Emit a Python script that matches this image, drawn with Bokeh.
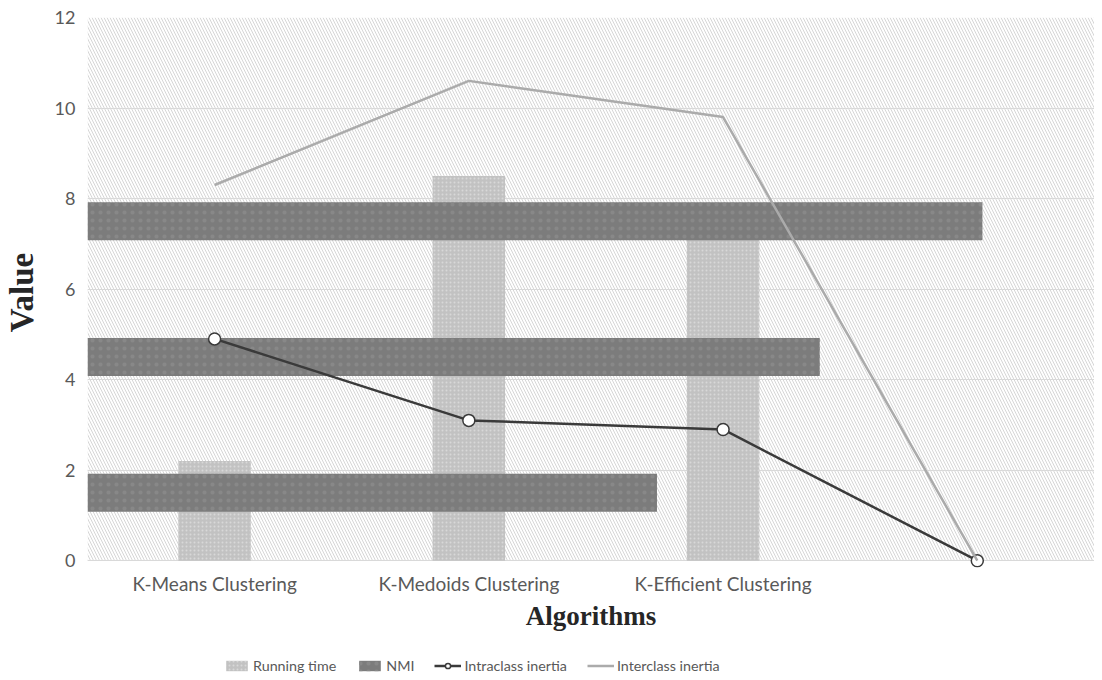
from bokeh.plotting import figure
from bokeh.layouts import column
from bokeh.models import (Range1d, LinearAxis, FixedTicker, BoxAnnotation, Legend, LegendItem)
from bokeh.embed import file_html
from bokeh.resources import INLINE

categories = ["K-Means Clustering", "K-Medoids Clustering", "K-Efficient Clustering", ""]
running_time = [2.2, 8.5, 7.6]
nmi = [0.56, 0.72, 0.88]
intraclass = [4.9, 3.1, 2.9, 0.0]
interclass = [8.3, 10.6, 9.8, 0.0]
y_ticks = [0, 2, 4, 6, 8, 10, 12]
series_names = ["Running time", "NMI", "Intraclass inertia", "Interclass inertia"]

xpos = [i + 0.5 for i in range(len(categories))]

RT_STYLE = dict(fill_color="#c2c2c2", line_color=None, hatch_pattern=".",
                hatch_color="#d8d8d8", hatch_scale=4)
NMI_STYLE = dict(fill_color="#7c7c7c", line_color=None, hatch_pattern=".",
                 hatch_color="#888888", hatch_scale=8)
INTRA_LINE = dict(line_color="#3a3a3a", line_width=2.5)
INTRA_MARK = dict(size=12, marker="circle", fill_color="white", line_color="#3a3a3a", line_width=1.5)
INTER_LINE = dict(line_color="#ababab", line_width=2.5)

p = figure(width=1094, height=640, output_backend="svg", toolbar_location=None,
           x_range=Range1d(0, 3.961), y_range=Range1d(-0.15, 12),
           min_border_left=80, min_border_right=0, min_border_top=17, min_border_bottom=73,
           x_axis_type=None)
p.outline_line_color = None
p.background_fill_color = "white"
p.border_fill_color = "white"

p.extra_x_ranges = {"nmi_x": Range1d(0, 3.961 / 4)}
p.extra_y_ranges = {"nmi_y": Range1d(-0.05, 4)}

bg = BoxAnnotation(bottom=0, fill_color="#fcfcfc", hatch_pattern="\\", hatch_color="#d6d6d6",
                   hatch_weight=1, hatch_scale=6, line_color=None, level="underlay")
p.center = [bg] + list(p.center)

p.ygrid.ticker = FixedTicker(ticks=y_ticks)
p.ygrid.grid_line_color = "#d9d9d9"
p.xgrid.ticker = FixedTicker(ticks=[0, 1, 2, 3, 4])
p.xgrid.grid_line_color = "#d9d9d9"

p.yaxis.ticker = FixedTicker(ticks=y_ticks)
p.yaxis.axis_line_color = None
p.yaxis.major_tick_line_color = None
p.yaxis.minor_tick_line_color = None
p.yaxis.major_label_text_font = "Lato"
p.yaxis.major_label_text_font_size = "18px"
p.yaxis.major_label_text_color = "#595959"
p.yaxis.major_label_standoff = 6
p.yaxis.axis_label = "Value"
p.yaxis.axis_label_text_font = "Liberation Serif"
p.yaxis.axis_label_text_font_style = "bold"
p.yaxis.axis_label_text_font_size = "33px"
p.yaxis.axis_label_text_color = "#262626"
p.yaxis.axis_label_standoff = 12

xaxis = LinearAxis(ticker=FixedTicker(ticks=xpos),
                   major_label_overrides={x: c for x, c in zip(xpos, categories)})
xaxis.axis_line_color = None
xaxis.major_tick_line_color = None
xaxis.minor_tick_line_color = None
xaxis.major_label_text_font = "Lato"
xaxis.major_label_text_font_size = "19px"
xaxis.major_label_text_color = "#595959"
xaxis.major_label_standoff = -2
xaxis.axis_label = "Algorithms"
xaxis.axis_label_text_font = "Liberation Serif"
xaxis.axis_label_text_font_style = "bold"
xaxis.axis_label_text_font_size = "27px"
xaxis.axis_label_text_color = "#262626"
xaxis.axis_label_standoff = 3
p.add_layout(xaxis, "below")

p.vbar(x=xpos[:3], top=running_time, bottom=0, width=0.285, **RT_STYLE)
p.hbar(y=[0.5, 1.5, 2.5], right=nmi, left=0, height=0.28,
       x_range_name="nmi_x", y_range_name="nmi_y", **NMI_STYLE)
p.line(xpos, intraclass, **INTRA_LINE)
p.scatter(xpos, intraclass, **INTRA_MARK)
p.line(xpos, interclass, **INTER_LINE)

# legend strip (dummy renderers sit outside the visible range)
lg = figure(width=1094, height=36, output_backend="svg", toolbar_location=None,
            x_range=Range1d(0, 1), y_range=Range1d(0, 1),
            min_border=0, x_axis_location=None, y_axis_location=None)
lg.outline_line_color = None
lg.xgrid.visible = False
lg.ygrid.visible = False
r1 = lg.vbar(x=[5], top=[5], bottom=[4], width=0.1, **RT_STYLE)
r2 = lg.vbar(x=[6], top=[5], bottom=[4], width=0.1, **NMI_STYLE)
r3a = lg.line([5, 6], [5, 5], **INTRA_LINE)
r3b = lg.scatter([5], [5], **INTRA_MARK)
r4 = lg.line([5, 6], [6, 6], **INTER_LINE)

legend = Legend(items=[
    LegendItem(label=series_names[0], renderers=[r1]),
    LegendItem(label=series_names[1], renderers=[r2]),
    LegendItem(label=series_names[2], renderers=[r3a, r3b]),
    LegendItem(label=series_names[3], renderers=[r4]),
], orientation="horizontal", location=(136, 1))
legend.background_fill_alpha = 0
legend.border_line_color = None
legend.padding = 0
legend.margin = 0
legend.spacing = 20
legend.glyph_width = 27
legend.glyph_height = 13
legend.label_height = 20
legend.label_standoff = 3
legend.label_text_font = "Lato"
legend.label_text_font_size = "14.3px"
legend.label_text_color = "#595959"
lg.add_layout(legend, "center")

layout = column(p, lg, spacing=0)
open("out.html", "w").write(file_html(layout, INLINE))
